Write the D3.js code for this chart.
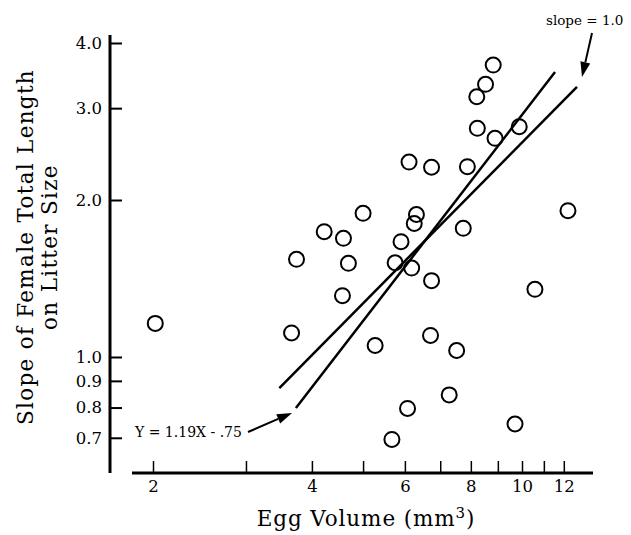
<!DOCTYPE html>
<html>
<head>
<meta charset="utf-8">
<script src="https://cdn.jsdelivr.net/npm/d3@7"></script>
<style>
  html, body { margin: 0; padding: 0; background: #fff; }
  svg { display: block; }
  text { font-family: "DejaVu Serif", "Liberation Serif", serif; fill: #000; }
</style>
</head>
<body>
<svg id="chart" width="631" height="535"></svg>
<script>
// ---- data ----
const eggVolume = [2.02, 3.66, 3.74, 4.22, 4.59, 4.57, 4.69, 5.00, 5.27, 5.67, 5.75, 5.90, 6.07, 6.11, 6.18, 6.25, 6.31,
  6.74, 6.74, 6.71, 7.28, 7.52, 7.74, 7.88, 8.21, 8.23, 8.53, 8.82, 8.89, 9.70, 9.88, 10.58, 12.22];
const slopeTL = [1.16, 1.112, 1.539, 1.739, 1.689, 1.311, 1.512, 1.886, 1.052, 0.695, 1.516, 1.664, 0.797, 2.365, 1.481, 1.803, 1.876,
  2.311, 1.401, 1.100, 0.846, 1.029, 1.765, 2.317, 3.155, 2.745, 3.333, 3.628, 2.626, 0.744, 2.764, 1.348, 1.908];
const slopeOneLine = [[3.47, 0.872], [12.71, 3.294]];
const regressionLine = [[3.73, 0.798], [11.55, 3.518]];
const xTicks = [2, 3, 4, 5, 6, 7, 8, 9, 10, 11, 12];
const xTickLabels = ["2", "", "4", "", "6", "", "8", "", "10", "", "12"];
const yTicks = [0.7, 0.8, 0.9, 1.0, 2.0, 3.0, 4.0];
const yTickLabels = ["0.7", "0.8", "0.9", "1.0", "2.0", "3.0", "4.0"];

// ---- scales ----
const svg = d3.select("#chart");
const x = d3.scaleLog().domain([2, 10]).range([153, 522]);
const y = d3.scaleLog().domain([1, 4]).range([357, 43]);

// ---- axes ----
const yAxisX = 110, xAxisY = 473;
const FONT = "DejaVu Serif";

const yAxis = d3.axisLeft(y).tickValues(yTicks)
  .tickFormat((d, i) => yTickLabels[i]).tickSizeInner(-12).tickSizeOuter(0).tickPadding(8);
const gy = svg.append("g").attr("transform", `translate(${yAxisX},0)`).call(yAxis);
gy.select(".domain").remove();
gy.selectAll(".tick line").attr("stroke", "#000").attr("stroke-width", 2);
gy.selectAll(".tick text").attr("font-size", 16.5).attr("font-family", FONT);
svg.append("line").attr("x1", yAxisX).attr("x2", yAxisX).attr("y1", 35).attr("y2", 473)
  .attr("stroke", "#000").attr("stroke-width", 3);

const xAxis = d3.axisBottom(x).tickValues(xTicks)
  .tickFormat((d, i) => xTickLabels[i]).tickSizeInner(-12).tickSizeOuter(0).tickPadding(6);
const gx = svg.append("g").attr("transform", `translate(0,${xAxisY})`).call(xAxis);
gx.select(".domain").remove();
gx.selectAll(".tick line").attr("stroke", "#000").attr("stroke-width", 1.5);
gx.selectAll(".tick text").attr("font-size", 16.5).attr("font-family", FONT).attr("dy", "0.8em");
svg.append("line").attr("x1", 132).attr("x2", 593).attr("y1", xAxisY).attr("y2", xAxisY)
  .attr("stroke", "#000").attr("stroke-width", 3);

// ---- axis titles ----
const xt = svg.append("text").attr("x", 366).attr("y", 526).attr("text-anchor", "middle")
  .attr("font-size", 21.5).attr("letter-spacing", 0.9);
xt.append("tspan").text("Egg Volume (mm");
xt.append("tspan").attr("dy", -8).attr("font-size", 15).text("3");
xt.append("tspan").attr("dy", 8).text(")");

const yt = svg.append("g").attr("transform", "translate(0,247) rotate(-90)");
yt.append("text").attr("x", 0).attr("y", 33).attr("text-anchor", "middle").attr("font-size", 21.5)
  .attr("letter-spacing", 1.3).text("Slope of Female Total Length");
yt.append("text").attr("x", 0).attr("y", 57).attr("text-anchor", "middle").attr("font-size", 21.5)
  .attr("letter-spacing", 1.3).text("on Litter Size");

// ---- lines ----
const lineGen = d3.line().x(d => x(d[0])).y(d => y(d[1]));
[slopeOneLine, regressionLine].forEach(l => {
  svg.append("path").attr("d", lineGen(l)).attr("fill", "none")
    .attr("stroke", "#000").attr("stroke-width", 2.5);
});

// ---- points ----
svg.append("g").selectAll("circle").data(eggVolume).join("circle")
  .attr("cx", d => x(d)).attr("cy", (d, i) => y(slopeTL[i])).attr("r", 7.5)
  .attr("fill", "none").attr("stroke", "#000").attr("stroke-width", 2);

// ---- annotations ----
function arrow(x1, y1, x2, y2) {
  const ang = Math.atan2(y2 - y1, x2 - x1);
  const L = 15, W = 5;
  const bx = x2 - L * Math.cos(ang), by = y2 - L * Math.sin(ang);
  svg.append("line").attr("x1", x1).attr("y1", y1).attr("x2", bx).attr("y2", by)
    .attr("stroke", "#000").attr("stroke-width", 2);
  const px = -Math.sin(ang), py = Math.cos(ang);
  svg.append("path").attr("d", `M${x2},${y2}L${bx + W * px},${by + W * py}L${bx - W * px},${by - W * py}Z`)
    .attr("fill", "#000");
}
svg.append("text").attr("x", 546).attr("y", 25).attr("font-size", 13.5).text("slope = 1.0");
arrow(592, 33, 582, 77);
svg.append("text").attr("x", 135).attr("y", 437).attr("font-size", 14).text("Y = 1.19X - .75");
arrow(248, 432, 292, 413);
</script>
</body>
</html>
